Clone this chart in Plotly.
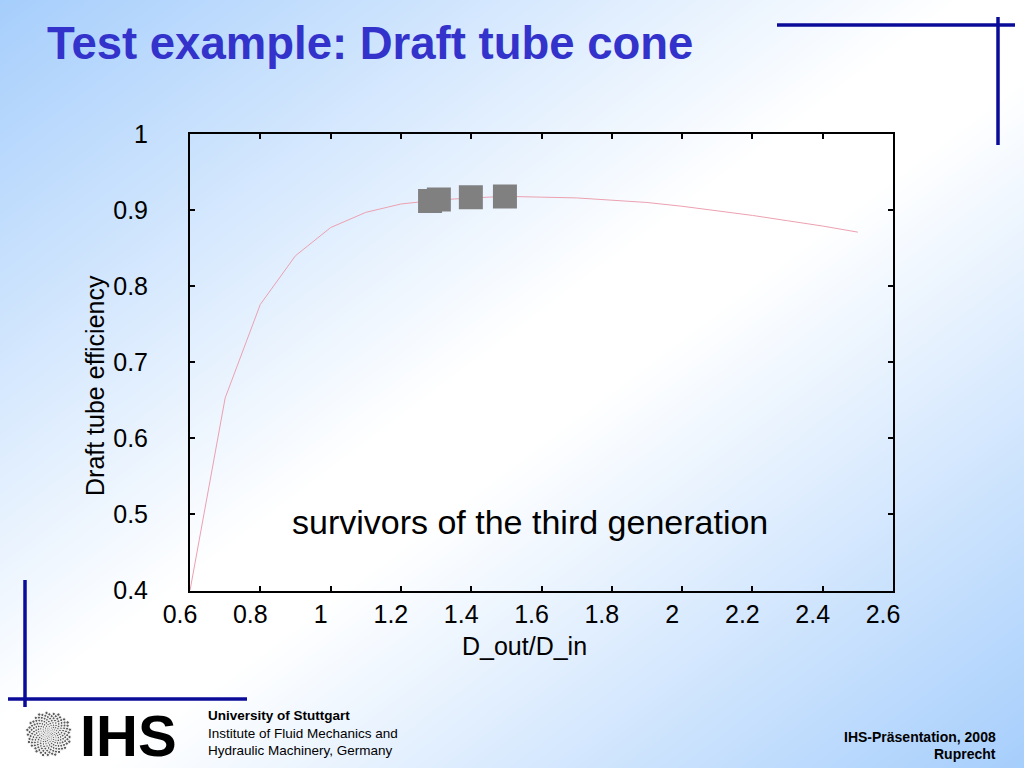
import plotly.graph_objects as go
import numpy as np

# ---- data ----
ratio = [0.6, 0.7, 0.8, 0.9, 1.0, 1.1, 1.2, 1.3, 1.4, 1.5, 1.6, 1.7, 1.8, 1.9, 2.0, 2.1, 2.2, 2.3, 2.4, 2.5]
efficiency = [0.400, 0.653, 0.776, 0.840, 0.877, 0.897, 0.908, 0.913, 0.916, 0.918, 0.917, 0.916,
              0.913, 0.910, 0.905, 0.899, 0.893, 0.886, 0.879, 0.871]
surv_ratio = [1.283, 1.308, 1.399, 1.496]
surv_eff = [0.912, 0.914, 0.917, 0.918]

W, H = 1024, 768
FONT = "Liberation Sans, Arial, Helvetica, sans-serif"

def px(x):
    return x / W

def py(y):
    return 1 - y / H

fig = go.Figure()

# ---- slide background gradient (decoration) ----
n = 41
gx = np.linspace(0, 1, n)
gy = np.linspace(0, 1, n)
U, V = np.meshgrid(gx, 1 - gy)
Z = (U + V) / 2
fig.add_trace(go.Heatmap(
    x=gx, y=gy, z=Z, zmin=0, zmax=1, zsmooth="best", showscale=False, hoverinfo="skip",
    colorscale=[[0, "#A6CEFC"], [0.47, "#FFFFFF"], [0.55, "#FFFFFF"], [1, "#A6CEFC"]],
    xaxis="x", yaxis="y"))

# ---- university logo dots (decoration) ----
k = np.arange(1, 230)
r = (k / k.max()) ** 0.75
ang = k * np.deg2rad(137.508)
fig.add_trace(go.Scatter(
    x=px(49) + r * np.cos(ang) * 22 / W, y=py(734) + r * np.sin(ang) * 22 / H,
    mode="markers", marker=dict(size=1.6 + 1.8 * r, color="#1a1a1a"),
    hoverinfo="skip", showlegend=False, xaxis="x", yaxis="y"))

# ---- chart ----
fig.add_trace(go.Scatter(
    x=ratio, y=efficiency, mode="lines", line=dict(color="rgb(236,160,176)", width=1),
    showlegend=False, xaxis="x2", yaxis="y2", hoverinfo="skip"))
fig.add_trace(go.Scatter(
    x=surv_ratio, y=surv_eff, mode="markers",
    marker=dict(symbol="square", size=24, color="#808080", line=dict(width=0)),
    showlegend=False, xaxis="x2", yaxis="y2"))

axis_common = dict(showgrid=False, zeroline=False, showline=True, linecolor="black", linewidth=2,
                   mirror="ticks", ticks="inside", ticklen=5, tickwidth=2, tickcolor="black",
                   automargin=False,
                   tickfont=dict(family=FONT, size=25, color="black"))

fig.update_layout(
    width=W, height=H, autosize=False,
    margin=dict(l=0, r=0, t=0, b=0, pad=0, autoexpand=False),
    paper_bgcolor="white", plot_bgcolor="rgba(0,0,0,0)", showlegend=False,
    xaxis=dict(domain=[0, 1], range=[0, 1], visible=False, fixedrange=True, automargin=False),
    yaxis=dict(domain=[0, 1], range=[0, 1], visible=False, fixedrange=True, automargin=False),
    xaxis2=dict(domain=[px(190), px(893)], range=[0.6, 2.6], tick0=0.6, dtick=0.2,
                anchor="y2", ticklabelshift=-10, ticklabelstandoff=0, **axis_common),
    yaxis2=dict(domain=[py(590.5), py(134)], range=[0.4, 1.0], tick0=0.4, dtick=0.1,
                anchor="x2", ticklabelstandoff=35, **axis_common),
)

ann = [
    dict(text="<b>Test example: Draft tube cone</b>", x=px(45), y=py(43), xanchor="left",
         font=dict(family=FONT, size=45.5, color="#3333CC")),
    dict(text="Draft tube efficiency", x=px(95), y=py(386), textangle=-90,
         font=dict(family=FONT, size=25, color="black")),
    dict(text="D_out/D_in", x=px(524), y=py(646), font=dict(family=FONT, size=25, color="black")),
    dict(text="survivors of the third generation", x=px(530), y=py(522),
         font=dict(family=FONT, size=34, color="black")),
    dict(text="<b>IHS</b>", x=px(78), y=py(735), xanchor="left",
         font=dict(family=FONT, size=58, color="black")),
    dict(text="<b>University of Stuttgart</b>", x=px(206), y=py(715), xanchor="left",
         font=dict(family=FONT, size=13.5, color="black")),
    dict(text="Institute of Fluid Mechanics and", x=px(206), y=py(733), xanchor="left",
         font=dict(family=FONT, size=13.5, color="black")),
    dict(text="Hydraulic Machinery, Germany", x=px(206), y=py(750), xanchor="left",
         font=dict(family=FONT, size=13.5, color="black")),
    dict(text="<b>IHS-Präsentation, 2008</b>", x=px(998), y=py(737), xanchor="right",
         font=dict(family=FONT, size=14, color="black")),
    dict(text="<b>Ruprecht</b>", x=px(998), y=py(754), xanchor="right",
         font=dict(family=FONT, size=14, color="black")),
]
for a in ann:
    a.setdefault("xref", "paper")
    a.setdefault("yref", "paper")
    a.setdefault("showarrow", False)
    a.setdefault("xanchor", "center")
    a.setdefault("yanchor", "middle")
fig.update_layout(annotations=ann)

blue = "#0B0B99"
lines = [
    (777, 25, 1015, 25), (998, 17, 998, 145),
    (8, 699, 247, 699), (25, 580, 25, 707),
]
fig.update_layout(shapes=[
    dict(type="line", xref="paper", yref="paper", x0=px(a), y0=py(b), x1=px(c), y1=py(d),
         line=dict(color=blue, width=3.5)) for a, b, c, d in lines])

fig.write_html("out.html", post_script="document.body.style.margin='0';",
               config={"displayModeBar": False})
